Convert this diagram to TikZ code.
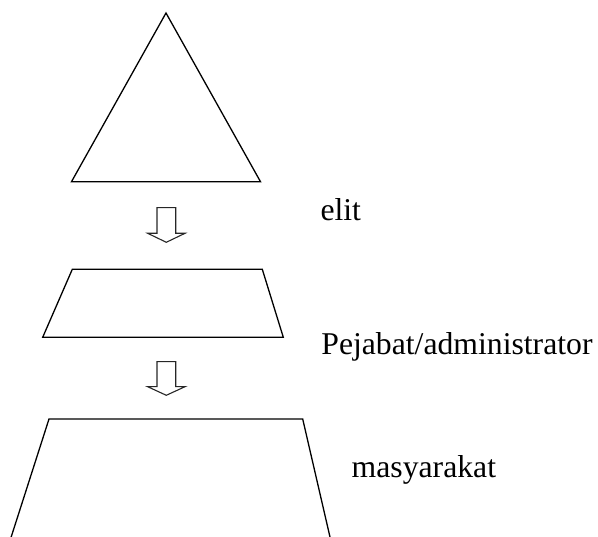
\documentclass[tikz,border=0pt]{standalone}
\usepackage{fontspec}
\setmainfont{Liberation Serif}
\begin{document}
\begin{tikzpicture}[x=1pt,y=-1pt,
  shapeline/.style={draw=black,line width=1.3pt,line join=miter},
  arrowline/.style={draw=black!85,line width=1.1pt,line join=miter},
  lbl/.style={anchor=base west,inner sep=0pt,font=\fontsize{31.7}{38}\selectfont}]
\useasboundingbox (0,0) rectangle (598,537);
\clip (0,0) rectangle (598,537);
% triangle
\draw[shapeline] (166,13) -- (260.5,181.7) -- (71.5,181.7) -- cycle;
% arrow 1
\draw[arrowline] (157,207.7) -- (175.7,207.7) -- (175.7,233.3) -- (185,233.3) -- (166.3,242.3) -- (147.7,233.3) -- (157,233.3) -- cycle;
% trapezoid 1
\draw[shapeline] (72.3,269.3) -- (262.3,269.3) -- (283.3,337.3) -- (42.7,337.3) -- cycle;
% arrow 2
\draw[arrowline] (157,361.7) -- (175.7,361.7) -- (175.7,386.7) -- (185,386.7) -- (166.3,395.3) -- (147.7,386.7) -- (157,386.7) -- cycle;
% trapezoid 2
\draw[shapeline] (49,419) -- (302.7,419) -- (333,550) -- (7,550) -- cycle;
% labels
\node[lbl] (elit) at (320.3,221) {elit};
\node[lbl] (pejabat) at (321.2,354.3) {Pejabat/administrator};
\node[lbl] (masy) at (351.5,477.3) {masyarakat};
\end{tikzpicture}
\end{document}
